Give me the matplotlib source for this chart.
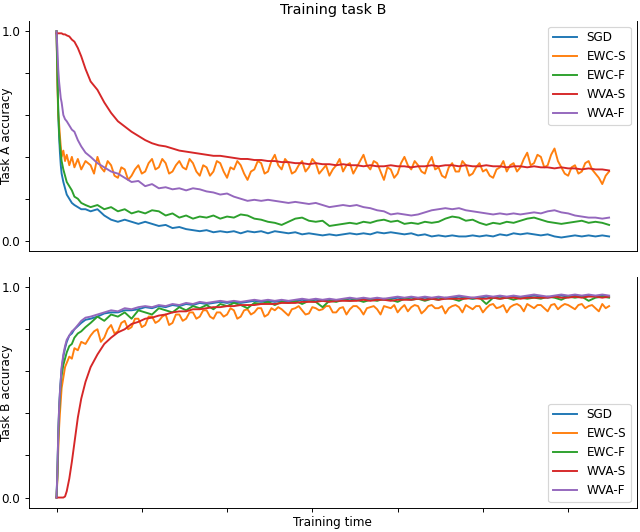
import matplotlib
matplotlib.use('Agg')
import matplotlib.pyplot as plt

# training steps (denser at the start where the curves move fast)
early = [0, 1, 2, 3, 4, 5, 6, 8, 10, 12, 15, 18, 21, 25, 29, 34]
steps = early + list(range(40, 649, 8))
steps_fine = early + list(range(40, 649, 4))   # the noisy EWC-S runs

names = ['SGD', 'EWC-S', 'EWC-F', 'WVA-S', 'WVA-F']

# task A accuracy while training on task B
a_sgd = [1.0, 0.82, 0.62, 0.50, 0.42, 0.36, 0.32, 0.28, 0.25, 0.22, 0.20, 0.18, 0.17, 0.16, 0.15, 0.15,
         0.14, 0.15, 0.12, 0.10, 0.09, 0.10, 0.09, 0.08, 0.09, 0.08,
         0.07, 0.075, 0.06, 0.065, 0.055, 0.05, 0.045, 0.05, 0.04, 0.045,
         0.04, 0.045, 0.035, 0.045, 0.04, 0.045, 0.035, 0.045, 0.04, 0.035,
         0.04, 0.03, 0.035, 0.03, 0.025, 0.03, 0.025, 0.03, 0.035, 0.03,
         0.035, 0.03, 0.04, 0.035, 0.04, 0.035, 0.03, 0.035, 0.025, 0.03,
         0.02, 0.025, 0.02, 0.025, 0.02, 0.02, 0.025, 0.02, 0.025, 0.02,
         0.03, 0.025, 0.035, 0.03, 0.035, 0.03, 0.025, 0.03, 0.02, 0.015,
         0.02, 0.025, 0.02, 0.025, 0.02, 0.025, 0.02]
a_ewcs = [1.0, 0.75, 0.60, 0.56, 0.50, 0.45, 0.40, 0.43, 0.38, 0.41, 0.36, 0.40, 0.35, 0.39, 0.34, 0.38,
          0.36, 0.32, 0.40, 0.35, 0.33, 0.38, 0.36, 0.31, 0.30, 0.35, 0.34, 0.29, 0.31, 0.34, 0.36, 0.32, 0.33, 0.37, 0.39, 0.34,
          0.35, 0.39, 0.37, 0.32, 0.33, 0.36, 0.38, 0.35, 0.34, 0.39, 0.37, 0.33, 0.31, 0.36, 0.35, 0.31, 0.33, 0.38, 0.37, 0.33,
          0.30, 0.35, 0.34, 0.38, 0.36, 0.32, 0.29, 0.33, 0.34, 0.38, 0.37, 0.32, 0.33, 0.38, 0.41, 0.36, 0.34, 0.39, 0.37, 0.32,
          0.33, 0.36, 0.38, 0.33, 0.35, 0.39, 0.37, 0.32, 0.34, 0.36, 0.31, 0.34, 0.36, 0.39, 0.33, 0.36, 0.37, 0.32, 0.35, 0.38,
          0.41, 0.36, 0.34, 0.38, 0.37, 0.33, 0.29, 0.35, 0.34, 0.30, 0.32, 0.37, 0.40, 0.36, 0.34, 0.38, 0.36, 0.33, 0.32, 0.37,
          0.40, 0.34, 0.35, 0.31, 0.30, 0.35, 0.37, 0.33, 0.33, 0.38, 0.36, 0.31, 0.32, 0.35, 0.37, 0.33, 0.34, 0.31, 0.30, 0.34,
          0.35, 0.38, 0.33, 0.36, 0.37, 0.33, 0.35, 0.39, 0.42, 0.36, 0.37, 0.41, 0.40, 0.35, 0.36, 0.41, 0.44, 0.38, 0.35, 0.32,
          0.31, 0.35, 0.36, 0.32, 0.33, 0.37, 0.38, 0.34, 0.32, 0.30, 0.27, 0.31, 0.33]
a_ewcf = [1.0, 0.80, 0.62, 0.52, 0.46, 0.42, 0.38, 0.34, 0.31, 0.28, 0.26, 0.24, 0.21, 0.20, 0.18, 0.17,
          0.16, 0.17, 0.15, 0.16, 0.14, 0.15, 0.13, 0.14, 0.13, 0.145,
          0.14, 0.12, 0.13, 0.11, 0.12, 0.105, 0.115, 0.11, 0.12, 0.105,
          0.115, 0.11, 0.125, 0.12, 0.105, 0.10, 0.09, 0.085, 0.075, 0.09,
          0.105, 0.11, 0.095, 0.09, 0.095, 0.07, 0.075, 0.08, 0.085, 0.08,
          0.09, 0.085, 0.095, 0.10, 0.09, 0.095, 0.08, 0.085, 0.08, 0.09,
          0.085, 0.09, 0.105, 0.115, 0.11, 0.095, 0.10, 0.085, 0.075, 0.085,
          0.08, 0.09, 0.085, 0.095, 0.105, 0.11, 0.10, 0.09, 0.085, 0.08,
          0.085, 0.09, 0.095, 0.085, 0.09, 0.085, 0.075]
a_wvas = [0.99, 0.99, 0.99, 0.99, 0.99, 0.99, 0.99, 0.985, 0.985, 0.98, 0.975, 0.96, 0.95, 0.92, 0.88, 0.82,
          0.76, 0.72, 0.66, 0.61, 0.57, 0.545, 0.52, 0.50, 0.48, 0.465,
          0.455, 0.45, 0.44, 0.43, 0.425, 0.42, 0.415, 0.41, 0.405, 0.405,
          0.40, 0.395, 0.39, 0.39, 0.385, 0.385, 0.38, 0.38, 0.375, 0.375,
          0.37, 0.37, 0.365, 0.37, 0.365, 0.365, 0.36, 0.365, 0.36, 0.36,
          0.355, 0.36, 0.355, 0.355, 0.36, 0.355, 0.355, 0.35, 0.355, 0.355,
          0.36, 0.355, 0.36, 0.36, 0.355, 0.36, 0.355, 0.355, 0.36, 0.355,
          0.355, 0.35, 0.355, 0.355, 0.35, 0.355, 0.35, 0.35, 0.345, 0.35,
          0.345, 0.345, 0.34, 0.345, 0.34, 0.34, 0.335]
a_wvaf = [1.0, 0.92, 0.82, 0.76, 0.72, 0.68, 0.66, 0.60, 0.58, 0.57, 0.55, 0.53, 0.52, 0.48, 0.45, 0.42,
          0.40, 0.37, 0.35, 0.33, 0.32, 0.30, 0.28, 0.285, 0.26, 0.27,
          0.25, 0.255, 0.245, 0.25, 0.24, 0.25, 0.245, 0.235, 0.23, 0.22,
          0.225, 0.21, 0.20, 0.19, 0.195, 0.19, 0.195, 0.19, 0.185, 0.18,
          0.185, 0.18, 0.175, 0.18, 0.17, 0.16, 0.165, 0.17, 0.165, 0.17,
          0.16, 0.155, 0.145, 0.14, 0.125, 0.13, 0.125, 0.12, 0.125, 0.135,
          0.145, 0.15, 0.155, 0.15, 0.155, 0.145, 0.14, 0.135, 0.13, 0.125,
          0.13, 0.125, 0.13, 0.125, 0.13, 0.135, 0.13, 0.14, 0.145, 0.135,
          0.13, 0.12, 0.115, 0.11, 0.11, 0.105, 0.11]

# task B accuracy
b_sgd = [0.0, 0.12, 0.30, 0.42, 0.50, 0.56, 0.61, 0.67, 0.71, 0.74, 0.77, 0.78, 0.80, 0.815, 0.83, 0.845,
         0.85, 0.86, 0.875, 0.88, 0.88, 0.89, 0.89, 0.895, 0.905, 0.90,
         0.91, 0.905, 0.915, 0.91, 0.92, 0.915, 0.925, 0.92, 0.925, 0.93,
         0.925, 0.93, 0.925, 0.93, 0.935, 0.93, 0.935, 0.93, 0.935, 0.93,
         0.935, 0.94, 0.935, 0.94, 0.935, 0.94, 0.935, 0.94, 0.945, 0.94,
         0.945, 0.94, 0.945, 0.94, 0.945, 0.95, 0.945, 0.95, 0.945, 0.95,
         0.945, 0.95, 0.945, 0.95, 0.955, 0.95, 0.945, 0.95, 0.955, 0.95,
         0.955, 0.95, 0.955, 0.95, 0.955, 0.96, 0.955, 0.95, 0.955, 0.96,
         0.955, 0.96, 0.955, 0.96, 0.955, 0.96, 0.955]
b_ewcs = [0.0, 0.08, 0.22, 0.33, 0.40, 0.46, 0.52, 0.57, 0.62, 0.64, 0.67, 0.66, 0.71, 0.70, 0.74, 0.73,
          0.77, 0.79, 0.80, 0.74, 0.76, 0.80, 0.82, 0.78, 0.79, 0.83, 0.84, 0.80, 0.81, 0.85, 0.85, 0.81, 0.82, 0.86, 0.86, 0.83,
          0.84, 0.86, 0.87, 0.82, 0.83, 0.87, 0.87, 0.84, 0.85, 0.88, 0.88, 0.85, 0.86, 0.89, 0.89, 0.86, 0.85, 0.88, 0.88, 0.86,
          0.87, 0.90, 0.89, 0.85, 0.86, 0.89, 0.895, 0.87, 0.88, 0.90, 0.90, 0.86, 0.87, 0.90, 0.89, 0.905, 0.895, 0.88, 0.865, 0.895,
          0.90, 0.91, 0.89, 0.87, 0.875, 0.905, 0.90, 0.89, 0.895, 0.91, 0.91, 0.88, 0.88, 0.90, 0.905, 0.87, 0.895, 0.91, 0.91, 0.895,
          0.87, 0.90, 0.905, 0.91, 0.895, 0.87, 0.91, 0.905, 0.90, 0.915, 0.88, 0.90, 0.915, 0.885, 0.905, 0.915, 0.91, 0.875, 0.89, 0.91,
          0.915, 0.90, 0.90, 0.91, 0.875, 0.90, 0.91, 0.915, 0.905, 0.88, 0.915, 0.905, 0.895, 0.91, 0.91, 0.88, 0.90, 0.915, 0.92, 0.90,
          0.905, 0.915, 0.88, 0.905, 0.915, 0.92, 0.91, 0.885, 0.92, 0.91, 0.90, 0.915, 0.915, 0.90, 0.885, 0.915, 0.92, 0.895, 0.91, 0.92,
          0.915, 0.905, 0.895, 0.915, 0.92, 0.90, 0.91, 0.915, 0.90, 0.885, 0.92, 0.90, 0.91]
b_ewcf = [0.0, 0.10, 0.28, 0.40, 0.48, 0.54, 0.58, 0.63, 0.66, 0.69, 0.72, 0.73, 0.76, 0.78, 0.79, 0.81,
          0.83, 0.86, 0.84, 0.87, 0.86, 0.88, 0.85, 0.89, 0.88, 0.87,
          0.90, 0.89, 0.88, 0.905, 0.89, 0.91, 0.90, 0.915, 0.895, 0.92,
          0.91, 0.925, 0.915, 0.90, 0.925, 0.92, 0.93, 0.915, 0.93, 0.925,
          0.935, 0.92, 0.935, 0.93, 0.905, 0.935, 0.93, 0.94, 0.935, 0.94,
          0.93, 0.94, 0.935, 0.945, 0.94, 0.93, 0.945, 0.94, 0.945, 0.935,
          0.945, 0.94, 0.95, 0.945, 0.935, 0.95, 0.945, 0.95, 0.92, 0.95,
          0.945, 0.95, 0.94, 0.95, 0.945, 0.95, 0.945, 0.955, 0.95, 0.94,
          0.955, 0.95, 0.955, 0.935, 0.95, 0.955, 0.95]
b_wvas = [0.0, 0.0, 0.0, 0.0, 0.0, 0.0, 0.0, 0.0, 0.005, 0.03, 0.09, 0.17, 0.26, 0.38, 0.47, 0.55,
          0.62, 0.68, 0.73, 0.76, 0.785, 0.80, 0.825, 0.835, 0.85, 0.855,
          0.865, 0.87, 0.88, 0.885, 0.885, 0.895, 0.895, 0.90, 0.905, 0.905,
          0.91, 0.91, 0.915, 0.915, 0.915, 0.92, 0.92, 0.92, 0.925, 0.925,
          0.925, 0.93, 0.93, 0.93, 0.935, 0.93, 0.935, 0.935, 0.935, 0.935,
          0.94, 0.935, 0.94, 0.94, 0.935, 0.94, 0.94, 0.94, 0.945, 0.94,
          0.945, 0.94, 0.945, 0.945, 0.945, 0.945, 0.95, 0.945, 0.945, 0.95,
          0.945, 0.95, 0.95, 0.945, 0.95, 0.95, 0.95, 0.95, 0.955, 0.95,
          0.95, 0.955, 0.95, 0.955, 0.955, 0.95, 0.955]
b_wvaf = [0.0, 0.12, 0.30, 0.42, 0.50, 0.56, 0.62, 0.68, 0.72, 0.75, 0.77, 0.79, 0.80, 0.82, 0.84, 0.855,
          0.86, 0.87, 0.88, 0.89, 0.885, 0.90, 0.895, 0.905, 0.91, 0.905,
          0.915, 0.91, 0.92, 0.915, 0.925, 0.92, 0.93, 0.925, 0.93, 0.935,
          0.93, 0.935, 0.93, 0.935, 0.94, 0.935, 0.94, 0.935, 0.94, 0.935,
          0.94, 0.945, 0.94, 0.945, 0.94, 0.945, 0.94, 0.945, 0.95, 0.945,
          0.95, 0.945, 0.95, 0.945, 0.95, 0.955, 0.95, 0.955, 0.95, 0.955,
          0.95, 0.955, 0.95, 0.955, 0.96, 0.955, 0.95, 0.955, 0.96, 0.955,
          0.96, 0.955, 0.96, 0.955, 0.96, 0.965, 0.96, 0.955, 0.96, 0.965,
          0.96, 0.965, 0.96, 0.965, 0.96, 0.965, 0.96]

xs = [steps, steps_fine, steps, steps, steps]
task_a = [a_sgd, a_ewcs, a_ewcf, a_wvas, a_wvaf]
task_b = [b_sgd, b_ewcs, b_ewcf, b_wvas, b_wvaf]

DPI = 86
fig = plt.figure(figsize=(640 / DPI, 532 / DPI), dpi=DPI)
ax1 = fig.add_axes([0.045, 0.528, 0.95, 0.433])
ax2 = fig.add_axes([0.045, 0.045, 0.95, 0.435])

for name, x, ys in zip(names, xs, task_a):
    ax1.plot(x, ys, label=name, lw=1.6)
for name, x, ys in zip(names, xs, task_b):
    ax2.plot(x, ys, label=name, lw=1.6)

yt = [0, 0.2, 0.4, 0.6, 0.8, 1.0]
ytl = ['0.0', '', '', '', '', '1.0']
for ax in (ax1, ax2):
    ax.set_xlim(-32.5, 680.5)
    ax.set_ylim(-0.05, 1.05)
    ax.set_yticks(yt)
    ax.set_yticklabels(ytl)
    ax.set_xticks([0, 100, 200, 300, 400, 500, 600])
    ax.set_xticklabels([])
    ax.spines['top'].set_visible(False)

ax1.tick_params(axis='x', bottom=False)
ax1.set_title('Training task B')
ax1.set_ylabel('Task A accuracy')
ax2.set_ylabel('Task B accuracy')
ax2.set_xlabel('Training time', labelpad=0)
ax1.yaxis.set_label_coords(-0.026, 0.5)
ax2.yaxis.set_label_coords(-0.026, 0.5)

ax1.legend(loc='upper right')
ax2.legend(loc='lower right')

fig.savefig('out.png', dpi=DPI)
